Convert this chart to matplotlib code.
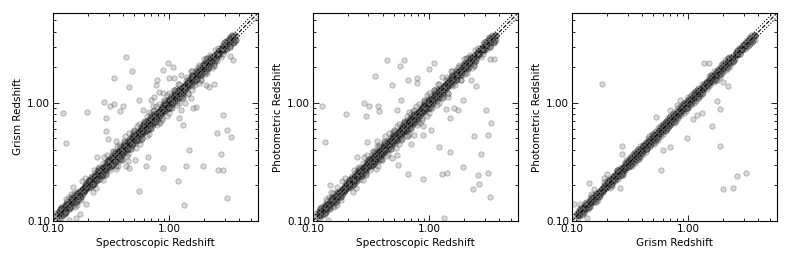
import matplotlib
matplotlib.use("Agg")
import matplotlib.pyplot as plt
from matplotlib.ticker import LogLocator, NullFormatter, FixedLocator, FixedFormatter

# ---- data (redshifts) ----
band_z = [0.11, 0.115, 0.12, 0.122, 0.125, 0.13, 0.133, 0.137, 0.14, 0.145,
          0.15, 0.155, 0.16, 0.165, 0.17, 0.175, 0.18, 0.185, 0.19, 0.195,
          0.2, 0.205, 0.21, 0.215, 0.22, 0.225, 0.23, 0.235, 0.24, 0.245,
          0.25, 0.255, 0.26, 0.265, 0.27, 0.275, 0.28, 0.285, 0.29, 0.295,
          0.30, 0.305, 0.31, 0.315, 0.32, 0.325, 0.33, 0.335, 0.34, 0.345,
          0.35, 0.355, 0.36, 0.365, 0.37, 0.375, 0.38, 0.385, 0.39, 0.395,
          0.40, 0.41, 0.42, 0.43, 0.44, 0.45, 0.46, 0.47, 0.48, 0.49,
          0.50, 0.51, 0.52, 0.53, 0.54, 0.55, 0.56, 0.57, 0.58, 0.59,
          0.60, 0.61, 0.62, 0.63, 0.64, 0.65, 0.66, 0.67, 0.68, 0.69,
          0.70, 0.72, 0.74, 0.76, 0.78, 0.80, 0.82, 0.84, 0.86, 0.88,
          0.90, 0.92, 0.94, 0.96, 0.98, 1.00, 1.03, 1.06, 1.09, 1.12,
          1.15, 1.18, 1.21, 1.24, 1.27, 1.30, 1.34, 1.38, 1.42, 1.46,
          1.50, 1.55, 1.60, 1.65, 1.70, 1.75, 1.80, 1.86, 1.92, 1.98,
          2.05, 2.12, 2.20, 2.28, 2.36, 2.45, 2.55, 2.65, 2.75, 2.90,
          3.00, 3.15, 3.30, 3.50, 3.70]

band_a = [0.116, 0.112, 0.130, 0.115, 0.128, 0.129, 0.138, 0.126, 0.148, 0.142,
          0.155, 0.147, 0.174, 0.158, 0.172, 0.163, 0.189, 0.181, 0.203, 0.189,
          0.210, 0.199, 0.227, 0.202, 0.224, 0.223, 0.239, 0.216, 0.254, 0.240,
          0.258, 0.242, 0.283, 0.254, 0.273, 0.256, 0.294, 0.279, 0.310, 0.286,
          0.315, 0.296, 0.335, 0.296, 0.326, 0.322, 0.343, 0.308, 0.360, 0.338,
          0.361, 0.337, 0.392, 0.350, 0.374, 0.349, 0.399, 0.377, 0.417, 0.383,
          0.420, 0.398, 0.454, 0.404, 0.449, 0.446, 0.478, 0.432, 0.509, 0.480,
          0.515, 0.485, 0.567, 0.509, 0.545, 0.512, 0.588, 0.559, 0.621, 0.572,
          0.630, 0.592, 0.670, 0.592, 0.653, 0.644, 0.686, 0.616, 0.721, 0.676,
          0.721, 0.684, 0.807, 0.730, 0.788, 0.744, 0.861, 0.823, 0.920, 0.854,
          0.945, 0.892, 1.015, 0.902, 1.000, 0.990, 1.071, 0.975, 1.155, 1.098,
          1.185, 1.121, 1.319, 1.190, 1.283, 1.209, 1.407, 1.352, 1.519, 1.416,
          1.575, 1.504, 1.728, 1.551, 1.734, 1.733, 1.872, 1.711, 2.035, 1.940,
          2.112, 2.014, 2.398, 2.189, 2.384, 2.279, 2.678, 2.597, 2.943, 2.813,
          3.150, 3.056, 3.564, 3.290, 3.774]

band_b = [0.106, 0.122, 0.118, 0.126, 0.116, 0.137, 0.132, 0.140, 0.133, 0.157,
          0.146, 0.161, 0.150, 0.167, 0.180, 0.161, 0.184, 0.178, 0.196, 0.193,
          0.192, 0.217, 0.206, 0.221, 0.205, 0.236, 0.228, 0.240, 0.228, 0.265,
          0.243, 0.265, 0.244, 0.268, 0.286, 0.253, 0.286, 0.274, 0.299, 0.292,
          0.288, 0.323, 0.304, 0.324, 0.298, 0.341, 0.327, 0.342, 0.323, 0.373,
          0.340, 0.369, 0.338, 0.369, 0.392, 0.345, 0.388, 0.370, 0.402, 0.391,
          0.384, 0.435, 0.412, 0.443, 0.409, 0.473, 0.455, 0.479, 0.456, 0.529,
          0.485, 0.530, 0.489, 0.535, 0.572, 0.506, 0.571, 0.547, 0.597, 0.584,
          0.576, 0.647, 0.608, 0.649, 0.595, 0.683, 0.653, 0.683, 0.646, 0.745,
          0.679, 0.749, 0.696, 0.768, 0.827, 0.736, 0.836, 0.806, 0.886, 0.871,
          0.864, 0.975, 0.921, 0.989, 0.911, 1.050, 1.020, 1.081, 1.036, 1.210,
          1.116, 1.227, 1.137, 1.252, 1.346, 1.196, 1.367, 1.325, 1.463, 1.445,
          1.440, 1.643, 1.568, 1.700, 1.581, 1.838, 1.782, 1.897, 1.824, 2.138,
          1.989, 2.205, 2.068, 2.303, 2.502, 2.254, 2.601, 2.544, 2.833, 2.871,
          2.880, 3.339, 3.234, 3.605, 3.441]

band_t = [0.113, 0.113, 0.125, 0.118, 0.126, 0.129, 0.136, 0.132, 0.144, 0.144,
          0.152, 0.151, 0.167, 0.162, 0.171, 0.169, 0.185, 0.183, 0.197, 0.192,
          0.205, 0.202, 0.218, 0.209, 0.222, 0.224, 0.235, 0.226, 0.247, 0.243,
          0.254, 0.249, 0.272, 0.260, 0.271, 0.265, 0.287, 0.282, 0.300, 0.291,
          0.308, 0.300, 0.322, 0.306, 0.323, 0.323, 0.337, 0.322, 0.350, 0.342,
          0.355, 0.346, 0.376, 0.358, 0.372, 0.362, 0.390, 0.381, 0.404, 0.389,
          0.410, 0.404, 0.437, 0.417, 0.444, 0.448, 0.469, 0.451, 0.494, 0.485,
          0.508, 0.497, 0.543, 0.519, 0.543, 0.531, 0.574, 0.564, 0.600, 0.581,
          0.615, 0.601, 0.645, 0.611, 0.646, 0.647, 0.673, 0.643, 0.700, 0.683,
          0.711, 0.702, 0.773, 0.745, 0.784, 0.772, 0.841, 0.832, 0.890, 0.867,
          0.923, 0.906, 0.978, 0.931, 0.990, 0.995, 1.051, 1.018, 1.123, 1.109,
          1.167, 1.151, 1.264, 1.215, 1.276, 1.255, 1.374, 1.366, 1.470, 1.438,
          1.538, 1.527, 1.664, 1.601, 1.717, 1.741, 1.836, 1.786, 1.978, 1.960,
          2.081, 2.067, 2.299, 2.234, 2.372, 2.364, 2.614, 2.624, 2.846, 2.857,
          3.075, 3.103, 3.432, 3.395, 3.737]

halo_z = [0.13, 0.16, 0.19, 0.22, 0.25, 0.27, 0.29, 0.31, 0.33, 0.35,
          0.37, 0.39, 0.41, 0.43, 0.45, 0.47, 0.50, 0.52, 0.55, 0.58,
          0.61, 0.64, 0.67, 0.70, 0.74, 0.78, 0.82, 0.86, 0.90, 0.95,
          1.00, 1.05, 1.10, 1.16, 1.22, 1.30, 1.38, 1.46, 1.55, 1.65,
          1.75, 1.86, 1.98, 2.10, 2.25, 2.40, 2.60, 2.80, 3.00, 3.30]
halo_wide = [0.153, 0.136, 0.232, 0.176, 0.285, 0.224, 0.363, 0.270, 0.383, 0.273,
             0.444, 0.328, 0.472, 0.353, 0.554, 0.404, 0.585, 0.416, 0.666, 0.493,
             0.695, 0.525, 0.831, 0.602, 0.873, 0.647, 0.984, 0.722, 1.035, 0.770,
             1.220, 0.903, 1.287, 0.963, 1.452, 1.105, 1.573, 1.197, 1.860, 1.419,
             2.030, 1.562, 2.336, 1.785, 2.543, 2.088, 2.912, 2.464, 3.300, 2.970]
halo_tight = [0.143, 0.146, 0.213, 0.198, 0.270, 0.243, 0.328, 0.285, 0.360, 0.312,
              0.411, 0.355, 0.443, 0.387, 0.504, 0.432, 0.550, 0.463, 0.611, 0.528,
              0.659, 0.576, 0.750, 0.644, 0.814, 0.702, 0.910, 0.783, 0.981, 0.855,
              1.120, 0.966, 1.210, 1.044, 1.342, 1.183, 1.490, 1.314, 1.721, 1.518,
              1.908, 1.674, 2.178, 1.911, 2.430, 2.208, 2.782, 2.604, 3.180, 3.102]

spec1_out = [0.122, 0.13, 0.196, 0.425, 0.476, 0.337, 0.274, 0.306, 0.337, 0.40,
             0.454, 0.283, 0.378, 0.286, 0.296, 0.349, 0.373, 0.24, 0.42, 0.454,
             0.63, 0.55, 0.88, 1.19, 1.33, 1.39, 1.49, 1.93, 2.57, 2.6,
             2.9, 2.77, 2.9, 3.1, 3.4, 3.1, 3.55, 3.3, 1.69, 1.53,
             1.6, 2.07, 2.2, 2.4, 1.8, 1.58, 0.98, 1.07, 0.88, 0.79,
             0.77, 0.82, 0.88, 1.1, 1.26, 1.0, 0.74, 0.55, 0.72, 0.69,
             0.59, 1.22, 1.26, 1.35, 1.3, 0.148, 0.164, 0.193, 0.17, 0.158,
             0.138, 0.126, 0.143, 0.21, 0.25, 0.35, 0.44, 0.51, 0.65, 0.36,
             2.07]
grism1_out = [0.828, 0.46, 0.83, 2.44, 1.88, 1.62, 1.02, 0.94, 0.98, 0.95,
              1.36, 0.74, 0.85, 0.58, 0.49, 0.48, 0.425, 0.35, 0.29, 0.28,
              0.293, 0.18, 0.28, 0.22, 0.136, 0.29, 0.40, 0.29, 0.56, 0.27,
              0.27, 0.37, 0.79, 0.59, 0.51, 0.156, 2.29, 2.49, 0.93, 1.11,
              0.9, 1.42, 1.36, 1.45, 1.47, 1.29, 2.2, 2.03, 1.9, 1.57,
              1.42, 1.25, 1.21, 1.62, 1.73, 1.62, 1.13, 1.05, 0.94, 1.06,
              0.87, 0.74, 0.87, 0.99, 0.65, 0.194, 0.152, 0.14, 0.115, 0.105,
              0.101, 0.13, 0.17, 0.236, 0.27, 0.29, 0.32, 0.33, 0.35, 0.35,
              1.85]

spec2_out = [0.12, 0.128, 0.192, 0.43, 0.557, 0.34, 0.272, 0.305, 0.36, 0.283,
             0.368, 0.48, 0.29, 0.355, 0.37, 0.238, 0.48, 0.53, 0.54, 0.65,
             0.89, 1.22, 1.29, 1.43, 1.5, 1.96, 2.4, 2.6, 2.65, 2.37,
             2.8, 3.2, 3.2, 3.3, 3.4, 3.06, 3.6, 3.3, 1.1, 1.0,
             0.6, 0.79, 0.78, 0.65, 1.28, 1.44, 1.39, 1.64, 1.76, 1.5,
             1.96, 2.5, 2.3, 1.35, 0.74, 0.88, 1.03, 0.89, 0.57, 0.53,
             0.14, 0.144, 0.16, 0.144, 0.13, 0.135, 1.33, 0.7, 0.74, 0.65]
phot2_out = [0.94, 0.47, 0.80, 2.32, 2.07, 1.69, 1.0, 0.95, 0.95, 0.77,
             0.85, 1.41, 0.47, 0.48, 0.42, 0.345, 0.34, 0.36, 0.30, 0.25,
             0.226, 0.42, 0.25, 0.256, 0.385, 0.288, 0.52, 0.245, 0.207, 0.188,
             0.37, 0.53, 0.256, 0.16, 0.68, 0.87, 2.35, 2.35, 2.17, 1.93,
             2.3, 1.62, 1.49, 1.57, 1.67, 1.13, 0.89, 0.90, 0.87, 0.75,
             1.06, 1.39, 1.57, 1.37, 0.79, 0.53, 0.59, 0.64, 1.06, 0.87,
             0.2, 0.175, 0.195, 0.15, 0.13, 0.102, 0.105, 0.45, 0.53, 0.52]

grism3_out = [0.18, 0.97, 1.6, 1.87, 1.75, 1.87, 2.0, 2.4, 2.6, 3.1,
              1.35, 1.5, 0.85, 0.8, 0.7, 1.18, 1.3, 1.1, 0.58, 0.7,
              0.61, 0.27, 0.27, 0.14, 0.147, 0.155, 0.118, 0.105, 0.135, 0.2,
              0.19, 0.26, 0.26, 1.75, 2.2, 2.0, 0.53, 0.37]
phot3_out = [1.45, 0.5, 0.64, 0.88, 1.04, 0.43, 0.188, 0.19, 0.24, 0.256,
             2.2, 2.16, 1.06, 0.97, 0.87, 0.79, 0.82, 0.73, 0.27, 0.42,
             0.4, 0.43, 0.37, 0.21, 0.17, 0.188, 0.14, 0.14, 0.105, 0.25,
             0.23, 0.24, 0.19, 1.57, 1.39, 1.5, 0.76, 0.41]

axis_lim = [0.1, 5.8]
major_ticks = [0.1, 1.0]
major_labels = ["0.10", "1.00"]
x_titles = ["Spectroscopic Redshift", "Spectroscopic Redshift", "Grism Redshift"]
y_titles = ["Grism Redshift", "Photometric Redshift", "Photometric Redshift"]
envelope = 1.08

panels = [
    [(band_z, band_a), (band_z, band_b), (band_a, band_z), (band_b, band_z),
     (band_b, band_a), (band_a, band_b), (band_t, band_b), (band_b, band_t),
     (halo_z, halo_wide), (halo_wide, halo_z), (spec1_out, grism1_out)],
    [(band_a, band_z), (band_b, band_z), (band_z, band_a), (band_z, band_b),
     (band_a, band_b), (band_b, band_a), (band_t, band_a), (band_a, band_t),
     (halo_wide, halo_z), (halo_z, halo_wide), (spec2_out, phot2_out)],
    [(band_z, band_t), (band_t, band_z), (band_t, band_a), (band_a, band_t),
     (band_t, band_b), (band_b, band_t), (band_z, band_a),
     (halo_z, halo_tight), (halo_tight, halo_z), (grism3_out, phot3_out)],
]

fig = plt.figure(figsize=(7.89, 2.63), dpi=100)
lefts = [0.0672, 0.3967, 0.725]
FS = 7.5

for i in range(3):
    ax = fig.add_axes([lefts[i], 0.160, 0.260, 0.791])
    ax.set_xscale("log")
    ax.set_yscale("log")
    for xs, ys in panels[i]:
        ax.scatter(xs, ys, s=15, facecolor="0.5", edgecolor="k",
                   linewidths=0.5, alpha=0.3, zorder=2)
    ax.plot(axis_lim, axis_lim, color="k", ls="--", lw=0.8, zorder=3)
    ax.plot(axis_lim, [v * envelope for v in axis_lim], color="k", ls=":", lw=0.8, zorder=3)
    ax.plot(axis_lim, [v / envelope for v in axis_lim], color="k", ls=":", lw=0.8, zorder=3)
    ax.set_xlim(axis_lim)
    ax.set_ylim(axis_lim)
    for axis in (ax.xaxis, ax.yaxis):
        axis.set_major_locator(FixedLocator(major_ticks))
        axis.set_major_formatter(FixedFormatter(major_labels))
        axis.set_minor_locator(LogLocator(base=10, subs=range(2, 10)))
        axis.set_minor_formatter(NullFormatter())
    ax.tick_params(which="both", direction="in", top=True, right=True,
                   labelsize=FS, width=0.6)
    ax.tick_params(which="major", length=4, pad=2)
    ax.tick_params(which="minor", length=2)
    for sp in ax.spines.values():
        sp.set_linewidth(0.8)
    ax.set_xlabel(x_titles[i], fontsize=FS, labelpad=3)
    ax.set_ylabel(y_titles[i], fontsize=FS, labelpad=3)

fig.savefig("out.png", dpi=100)
